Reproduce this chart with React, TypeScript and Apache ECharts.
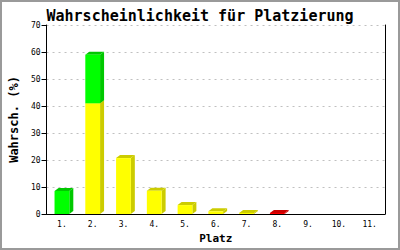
import React, { useEffect, useRef } from "react";
import * as echarts from "echarts";

const categories = ["1.", "2.", "3.", "4.", "5.", "6.", "7.", "8.", "9.", "10.", "11."];
const yellowValues = [0, 41, 20.7, 8.6, 3.3, 1.0, 0.4, 0, 0, 0, 0];
const greenValues = [8.5, 18, 0, 0, 0, 0, 0, 0, 0, 0, 0];
const redValues = [0, 0, 0, 0, 0, 0, 0, 0.4, 0, 0, 0];
const yTicks = { min: 0, max: 70, interval: 10 };

const seriesColors = [
  { front: "#FFFF00", side: "#CCCC00" },
  { front: "#00FF00", side: "#00C800" },
  { front: "#FF0000", side: "#CC0000" },
];

export default function App() {
  const ref = useRef<HTMLDivElement>(null);
  useEffect(() => {
    if (!ref.current) return;
    const chart = echarts.init(ref.current, null, { renderer: "svg" });
    const stacks = [yellowValues, greenValues, redValues];
    const data: number[][] = [];
    categories.forEach((_, i) => {
      let base = 0;
      stacks.forEach((arr, si) => {
        const v = arr[i];
        if (v > 0) {
          data.push([i, base, base + v, si]);
          base += v;
        }
      });
    });
    const mono = "DejaVu Sans Mono";
    chart.setOption({
      animation: false,
      backgroundColor: "#ffffff",
      title: {
        text: "Wahrscheinlichkeit für Platzierung",
        left: "center",
        top: 3,
        textStyle: { fontFamily: mono, fontSize: 15, fontWeight: "bold", color: "#000" },
      },
      graphic: [
        {
          type: "rect",
          shape: { x: 1, y: 1, width: 398, height: 248 },
          style: { fill: "none", stroke: "#9a9a9a", lineWidth: 2 },
          silent: true,
        },
      ],
      grid: { left: 43, right: 15, top: 25, bottom: 36 },
      xAxis: {
        type: "category",
        data: categories,
        name: "Platz",
        nameLocation: "middle",
        nameGap: 19,
        nameTextStyle: { fontFamily: mono, fontSize: 11, fontWeight: "bold", color: "#000" },
        axisLine: { show: true, lineStyle: { color: "#000", width: 1 } },
        axisTick: { show: false },
        axisLabel: { fontFamily: mono, fontSize: 8, color: "#000", margin: 6 },
        splitLine: { show: false },
      },
      yAxis: [
        {
          type: "value",
          min: yTicks.min,
          max: yTicks.max,
          interval: yTicks.interval,
          name: "Wahrsch. (%)",
          nameLocation: "middle",
          nameGap: 26,
          nameTextStyle: { fontFamily: mono, fontSize: 12, fontWeight: "bold", color: "#000" },
          axisLine: { show: true, lineStyle: { color: "#000", width: 1 } },
          axisTick: { show: true, length: 5, lineStyle: { color: "#000" } },
          axisLabel: { fontFamily: mono, fontSize: 8, color: "#000", margin: 6 },
          splitLine: { show: true, lineStyle: { color: "#c0c0c0", type: [2, 4], width: 1 } },
        },
        {
          type: "value",
          min: yTicks.min,
          max: yTicks.max,
          interval: yTicks.interval,
          position: "right",
          axisLine: { show: true, lineStyle: { color: "#000", width: 1 } },
          axisTick: { show: false },
          axisLabel: { show: false },
          splitLine: { show: false },
        },
      ],
      series: [
        {
          type: "custom",
          xAxisIndex: 0,
          yAxisIndex: 0,
          encode: { x: 0, y: [1, 2] },
          data,
          renderItem: (params: any, api: any) => {
            const cat = api.value(0);
            const base = api.value(1);
            const top = api.value(2);
            const ci = api.value(3);
            const p0 = api.coord([cat, base]);
            const p1 = api.coord([cat, top]);
            const bw = api.size([1, 0])[0] * 0.48;
            const x0 = p0[0] - bw / 2;
            const x1 = p0[0] + bw / 2;
            const yb = p0[1];
            const yt = p1[1];
            const dx = 4;
            const dy = 3;
            const c = seriesColors[ci];
            return {
              type: "group",
              children: [
                {
                  type: "polygon",
                  shape: { points: [[x1, yb], [x1 + dx, yb - dy], [x1 + dx, yt - dy], [x1, yt]] },
                  style: { fill: c.side },
                },
                {
                  type: "polygon",
                  shape: { points: [[x0, yt], [x0 + dx, yt - dy], [x1 + dx, yt - dy], [x1, yt]] },
                  style: { fill: c.side },
                },
                {
                  type: "rect",
                  shape: { x: x0, y: yt, width: bw, height: yb - yt },
                  style: { fill: c.front },
                },
              ],
            };
          },
        },
      ],
    });
    return () => chart.dispose();
  }, []);
  return (
    <div
      ref={ref}
      style={{ position: "fixed", left: 0, top: 0, width: 400, height: 250 }}
    />
  );
}
